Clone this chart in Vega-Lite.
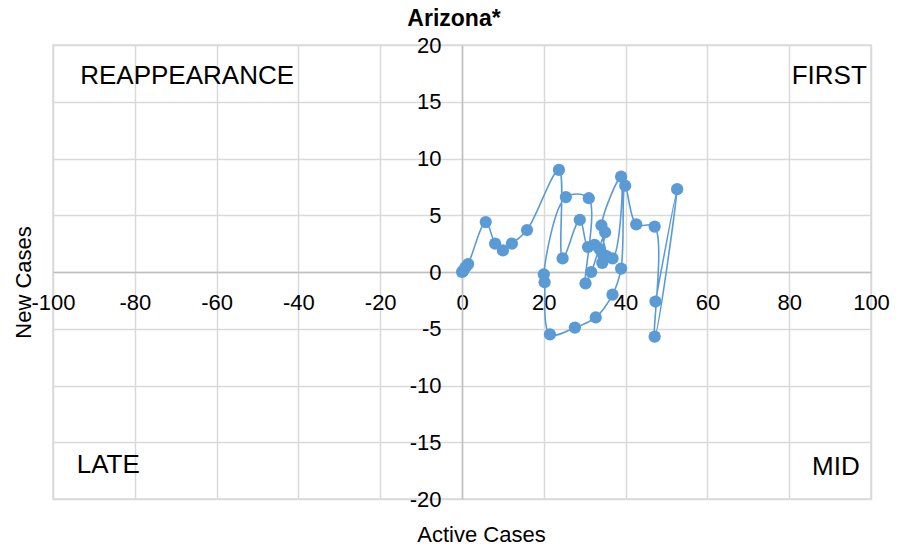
{
  "$schema": "https://vega.github.io/schema/vega-lite/v6.json",
  "width": 818,
  "height": 454,
  "autosize": "none",
  "padding": {"left": 53, "top": 45, "right": 39, "bottom": 50},
  "background": "white",
  "config": {"font": "Liberation Sans", "view": {"stroke": "#d9d9d9", "strokeWidth": 1.5}},
  "title": {"text": "Arizona*", "fontSize": 23, "fontWeight": "bold", "font": "Liberation Sans", "color": "#000000", "anchor": "middle", "dx": -8, "offset": 3},
  "data": {"values": [
    {"t": 1, "x": 0, "y": 0},
    {"t": 2, "x": 0.3, "y": 0.1},
    {"t": 3, "x": 0.8, "y": 0.4},
    {"t": 4, "x": 1.5, "y": 0.7},
    {"t": 5, "x": 5.8, "y": 4.4},
    {"t": 6, "x": 8.1, "y": 2.5},
    {"t": 7, "x": 10.0, "y": 1.9},
    {"t": 8, "x": 12.2, "y": 2.5},
    {"t": 9, "x": 15.9, "y": 3.7},
    {"t": 10, "x": 23.7, "y": 9.0},
    {"t": 11, "x": 24.6, "y": 1.2},
    {"t": 12, "x": 28.8, "y": 4.6},
    {"t": 13, "x": 30.8, "y": 2.2},
    {"t": 14, "x": 32.4, "y": 2.4},
    {"t": 15, "x": 34.3, "y": 0.8},
    {"t": 16, "x": 33.7, "y": 2.0},
    {"t": 17, "x": 35.3, "y": 1.4},
    {"t": 18, "x": 34.1, "y": 4.1},
    {"t": 19, "x": 38.9, "y": 8.4},
    {"t": 20, "x": 36.8, "y": 1.2},
    {"t": 21, "x": 34.5, "y": 1.5},
    {"t": 22, "x": 35.0, "y": 3.5},
    {"t": 23, "x": 31.6, "y": 0.0},
    {"t": 24, "x": 30.2, "y": -1.0},
    {"t": 25, "x": 31.0, "y": 6.5},
    {"t": 26, "x": 25.4, "y": 6.6},
    {"t": 27, "x": 20.0, "y": -0.2},
    {"t": 28, "x": 20.2, "y": -0.9},
    {"t": 29, "x": 21.5, "y": -5.5},
    {"t": 30, "x": 27.6, "y": -4.9},
    {"t": 31, "x": 32.7, "y": -4.0},
    {"t": 32, "x": 36.8, "y": -2.0},
    {"t": 33, "x": 38.9, "y": 0.3},
    {"t": 34, "x": 39.9, "y": 7.6},
    {"t": 35, "x": 42.6, "y": 4.2},
    {"t": 36, "x": 47.1, "y": 4.0},
    {"t": 37, "x": 47.1, "y": -5.7},
    {"t": 38, "x": 52.6, "y": 7.3},
    {"t": 39, "x": 47.3, "y": -2.6}
  ]},
  "encoding": {
    "x": {
      "field": "x", "type": "quantitative",
      "scale": {"domain": [-100, 100], "nice": false, "zero": false},
      "axis": {
        "title": "Active Cases", "orient": "bottom", "offset": -227,
        "values": [-100, -80, -60, -40, -20, 0, 20, 40, 60, 80, 100],
        "labelExpr": "'' + datum.value",
        "grid": true, "gridColor": "#d9d9d9", "gridWidth": 1.5,
        "domainColor": "#bfbfbf", "domainWidth": 1.5, "ticks": false,
        "labelFontSize": 22, "labelColor": "#000000", "labelPadding": 20,
        "labelOverlap": false, "labelFlush": false, "labelBound": false,
        "titleFontSize": 22, "titleFontWeight": "normal", "titleColor": "#000000",
        "titleX": 428, "titleY": 262, "titleBaseline": "middle", "titleAlign": "center"
      }
    },
    "y": {
      "field": "y", "type": "quantitative",
      "scale": {"domain": [-20, 20], "nice": false, "zero": false},
      "axis": {
        "title": "New Cases", "orient": "left", "offset": -409,
        "values": [-20, -15, -10, -5, 0, 5, 10, 15, 20],
        "labelExpr": "'' + datum.value",
        "grid": true, "gridColor": "#d9d9d9", "gridWidth": 1.5,
        "domainColor": "#bfbfbf", "domainWidth": 1.5, "ticks": false,
        "labelFontSize": 22, "labelColor": "#000000", "labelPadding": 21,
        "labelOverlap": false, "labelFlush": false, "labelBound": false,
        "titleFontSize": 22, "titleFontWeight": "normal", "titleColor": "#000000",
        "titleX": -439, "titleY": 237, "titleBaseline": "middle", "titleAlign": "center", "titleAngle": -90
      }
    }
  },
  "layer": [
    {
      "mark": {"type": "line", "interpolate": "catmull-rom", "color": "#5b9bd5", "strokeWidth": 1.6},
      "encoding": {"order": {"field": "t", "type": "quantitative"}}
    },
    {
      "mark": {"type": "point", "filled": true, "opacity": 1, "color": "#5b9bd5", "size": 150}
    },
    {
      "data": {"values": [
        {"label": "REAPPEARANCE", "x": -67.2, "y": 17.3},
        {"label": "FIRST", "x": 89.8, "y": 17.3},
        {"label": "LATE", "x": -86.5, "y": -17.0},
        {"label": "MID", "x": 91.4, "y": -17.2}
      ]},
      "mark": {"type": "text", "fontSize": 26, "color": "#000000", "align": "center", "baseline": "middle"},
      "encoding": {"text": {"field": "label"}}
    }
  ]
}
